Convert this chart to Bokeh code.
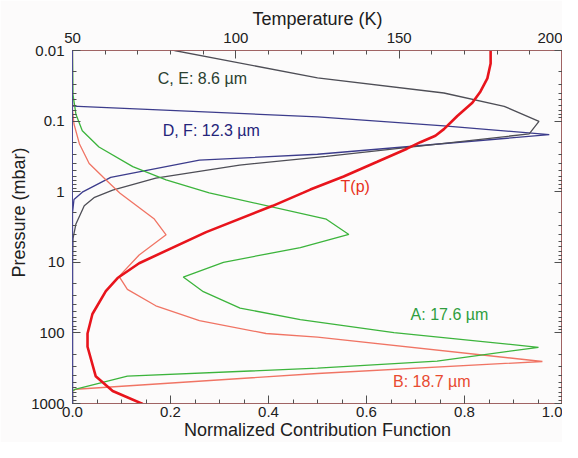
from bokeh.plotting import figure
from bokeh.models import LinearAxis, LogAxis, Range1d, FixedTicker, Label, CustomJSTickFormatter, Title
from bokeh.embed import file_html
from bokeh.resources import INLINE

# ---- data (normalized contribution function vs pressure in mbar) ----
ce_cf = [0.208, 0.50, 0.758, 0.881, 0.952, 0.932, 0.518, 0.341, 0.170, 0.082, 0.045, 0.024, 0.007, 0.001, 0.0, 0.0]
ce_p = [0.01, 0.0245, 0.040, 0.0617, 0.101, 0.152, 0.315, 0.42, 0.643, 0.953, 1.2, 1.585, 2.86, 4.63, 10.0, 1000.0]

df_cf = [0.0, 0.0, 0.50, 0.758, 0.973, 0.50, 0.259, 0.078, 0.020, 0.003, 0.0, 0.0]
df_p = [0.05, 0.0614, 0.0871, 0.1167, 0.1556, 0.295, 0.357, 0.628, 1.016, 1.29, 2.0, 1000.0]

a_cf = [0.0, 0.001, 0.007, 0.020, 0.054, 0.123, 0.191, 0.279, 0.518, 0.564, 0.465, 0.308, 0.226,
        0.267, 0.342, 0.465, 0.656, 0.951, 0.744, 0.50, 0.112, 0.005, 0.0, 0.0]
a_p = [0.01, 0.0423, 0.080, 0.137, 0.233, 0.442, 0.679, 1.04, 2.45, 4.03, 6.18, 10.0, 16.2,
       26.1, 44.5, 64.7, 99.0, 160.0, 251.0, 316.0, 410.0, 631.0, 661.0, 1000.0]

b_cf = [0.0, 0.0, 0.003, 0.014, 0.034, 0.068, 0.097, 0.167, 0.191, 0.136, 0.095, 0.112, 0.170,
        0.259, 0.395, 0.50, 0.959, 0.50, 0.007, 0.0, 0.0]
b_p = [0.01, 0.0684, 0.110, 0.209, 0.398, 0.679, 1.05, 2.44, 4.08, 7.89, 15.8, 24.2, 41.3,
       66.8, 102.0, 115.0, 254.0, 376.0, 628.0, 661.0, 1000.0]

# temperature profile T(p) in K
t_k = [178.0, 178.0, 177.0, 174.9, 172.4, 167.8, 163.7, 161.1, 156.5, 152.4, 143.3, 133.0, 122.8,
       120.5, 111.3, 90.9, 70.4, 63.8, 60.2, 56.1, 54.6, 54.6, 57.1, 62.3, 71.5]
t_p = [0.01, 0.0153, 0.0248, 0.038, 0.0551, 0.0847, 0.130, 0.161, 0.199, 0.246, 0.377, 0.608, 0.933,
       1.04, 1.585, 3.74, 10.3, 16.7, 25.6, 54.0, 102.0, 157.0, 410.0, 664.0, 1016.0]

x_ticks = [0.0, 0.2, 0.4, 0.6, 0.8, 1.0]
t_ticks = [50, 100, 150, 200]
p_ticks = [0.01, 0.1, 1, 10, 100, 1000]

FONT = "Liberation Sans"
FRAME = "#a06464"
TICK = "#505050"
BG = "#fcfbfb"

p = figure(width=562, height=442, x_range=Range1d(0, 1), y_range=Range1d(1000, 0.01),
           y_axis_type="log", output_backend="svg", toolbar_location=None,
           min_border_left=72, min_border_right=0, min_border_top=50, min_border_bottom=0)
p.extra_x_ranges = {"T": Range1d(50, 200)}
p.background_fill_color = BG
p.border_fill_color = BG
p.outline_line_color = FRAME
p.grid.visible = False

def style(ax):
    ax.axis_line_color = FRAME
    ax.major_tick_line_color = TICK
    ax.minor_tick_line_color = TICK
    ax.major_tick_in = 8
    ax.major_tick_out = 0
    ax.minor_tick_in = 4
    ax.minor_tick_out = 0
    ax.major_label_text_font = FONT
    ax.major_label_text_font_size = "15px"
    ax.major_label_text_color = "#202020"
    ax.axis_label_text_font = FONT
    ax.axis_label_text_font_size = "18px"
    ax.axis_label_text_font_style = "normal"
    ax.axis_label_text_color = "#202020"
    ax.axis_label_standoff = 0

# bottom axis
bx = p.xaxis[0]
bx.ticker = FixedTicker(ticks=x_ticks, minor_ticks=[round(0.05 * i, 2) for i in range(21)])
bx.formatter = CustomJSTickFormatter(code="return tick.toFixed(1)")
bx.axis_label = "Normalized Contribution Function"
style(bx)
bx.major_label_standoff = 3

# left axis
minor_log = [k * 10.0 ** e for e in range(-2, 3) for k in range(2, 10)]
ly = p.yaxis[0]
ly.ticker = FixedTicker(ticks=p_ticks, minor_ticks=minor_log)
ly.formatter = CustomJSTickFormatter(code="return tick.toString()")
style(ly)
ly.major_label_standoff = 8
ly.axis_line_color = "#4a4a96"

# top axis
tx = LinearAxis(x_range_name="T", axis_label="Temperature (K)")
tx.ticker = FixedTicker(ticks=t_ticks, minor_ticks=list(range(50, 201, 10)))
style(tx)
tx.major_label_standoff = 8
tx.axis_label_standoff = 1
p.add_layout(tx, "above")

# right axis (ticks only)
ry = LogAxis()
ry.ticker = FixedTicker(ticks=p_ticks, minor_ticks=minor_log)
style(ry)
ry.formatter = CustomJSTickFormatter(code="return ''")
ry.major_label_text_font_size = "1px"
ry.major_label_standoff = 0
p.add_layout(ry, "right")

p.add_layout(Title(text="Pressure (mbar)", align="left", offset=126, text_font=FONT,
                   text_font_size="18px", text_font_style="normal", text_color="#202020",
                   standoff=0), "left")

# curves
lw = 1.3
p.line(df_cf, df_p, line_color="#3c3c8c", line_width=lw)
p.line(ce_cf, ce_p, line_color="#4e4e56", line_width=lw)
p.line(b_cf, b_p, line_color="#f07464", line_width=lw)
p.line(a_cf, a_p, line_color="#3cb43c", line_width=lw)
p.line(t_k, t_p, line_color="#e8141c", line_width=2.6, x_range_name="T")

def lab(x, y, text, color):
    p.add_layout(Label(x=x, y=y, text=text, text_color=color, text_font=FONT,
                       text_font_size="16px", text_baseline="middle", text_align="left"))

lab(0.174, 0.0248, "C, E: 8.6 µm", "#2a4030")
lab(0.184, 0.137, "D, F: 12.3 µm", "#24247a")
lab(0.547, 0.838, "T(p)", "#e83020")
lab(0.690, 54.0, "A: 17.6 µm", "#2e9e3e")
lab(0.654, 482.0, "B: 18.7 µm", "#e84a30")

open("out.html", "w").write(file_html(p, INLINE))
